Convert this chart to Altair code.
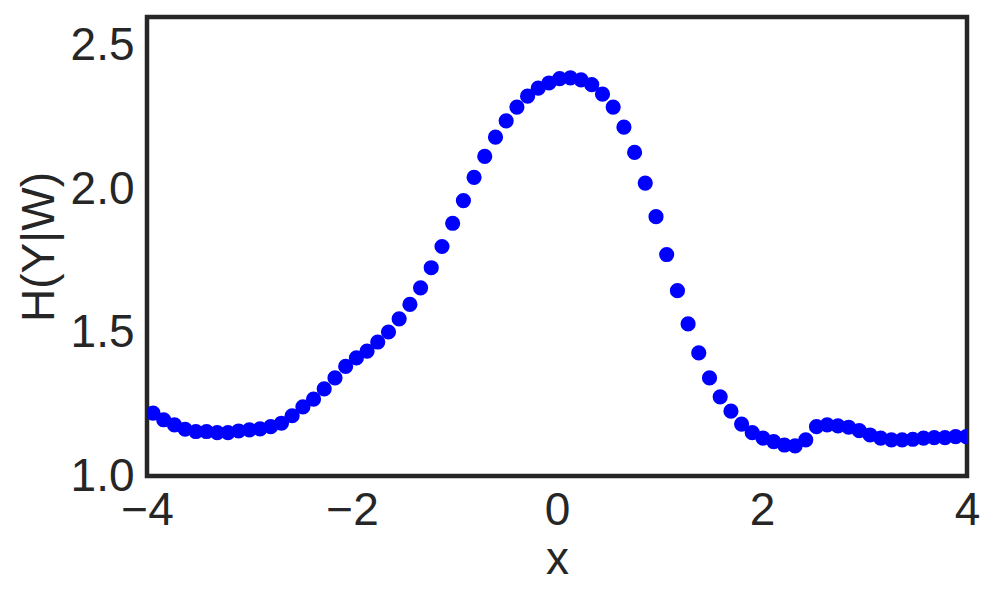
import altair as alt
import pandas as pd

x_vals = [-3.941, -3.837, -3.732, -3.628, -3.523, -3.419, -3.315, -3.210, -3.106, -3.001,
          -2.897, -2.793, -2.688, -2.584, -2.479, -2.375, -2.271, -2.166, -2.062, -1.957,
          -1.853, -1.749, -1.644, -1.540, -1.435, -1.331, -1.227, -1.122, -1.018, -0.913,
          -0.809, -0.705, -0.600, -0.496, -0.391, -0.287, -0.183, -0.078, 0.026, 0.131,
          0.235, 0.339, 0.444, 0.548, 0.653, 0.757, 0.861, 0.966, 1.070, 1.175,
          1.279, 1.383, 1.488, 1.592, 1.697, 1.801, 1.905, 2.010, 2.114, 2.219,
          2.323, 2.427, 2.532, 2.636, 2.741, 2.845, 2.949, 3.054, 3.158, 3.263,
          3.367, 3.471, 3.576, 3.680, 3.785, 3.889, 3.993]

h_vals = [1.219, 1.196, 1.178, 1.163, 1.155, 1.155, 1.151, 1.151, 1.157, 1.161,
          1.164, 1.172, 1.184, 1.210, 1.241, 1.268, 1.304, 1.342, 1.382, 1.412,
          1.435, 1.467, 1.502, 1.548, 1.598, 1.656, 1.726, 1.800, 1.881, 1.960,
          2.041, 2.114, 2.181, 2.238, 2.286, 2.324, 2.352, 2.370, 2.385, 2.388,
          2.381, 2.364, 2.331, 2.286, 2.216, 2.128, 2.021, 1.904, 1.772, 1.646,
          1.530, 1.429, 1.342, 1.276, 1.226, 1.181, 1.151, 1.132, 1.120, 1.108,
          1.105, 1.126, 1.172, 1.178, 1.175, 1.170, 1.158, 1.143, 1.132, 1.126,
          1.126, 1.128, 1.132, 1.134, 1.134, 1.137, 1.137]

x_ticks = [-4, -2, 0, 2, 4]
y_ticks = [1.0, 1.5, 2.0, 2.5]

df = pd.DataFrame({"x": x_vals, "h": h_vals})

FONT = "Liberation Sans"
TXT = "#262626"

chart = alt.Chart(df).mark_circle(
    color="#0000ff", opacity=1, size=230, clip=True
).encode(
    x=alt.X("x:Q", scale=alt.Scale(domain=[-4, 4], nice=False, zero=False),
            axis=alt.Axis(values=x_ticks, title="x", format="d")),
    y=alt.Y("h:Q", scale=alt.Scale(domain=[1.0, 2.6], nice=False, zero=False),
            axis=alt.Axis(values=y_ticks, title="H(Y|W)", format=".1f")),
).properties(
    width=820, height=459,
    autosize=alt.AutoSizeParams(type="none"),
    padding={"left": 139, "top": 9, "right": 25, "bottom": 116},
).configure_view(
    stroke=TXT, strokeWidth=4.5
).configure_axis(
    grid=False, domain=False, ticks=False, tickSize=0,
    labelFont=FONT, labelFontSize=46, labelColor=TXT,
    titleFont=FONT, titleFontSize=46, titleColor=TXT, titleFontWeight="normal",
    labelFlush=False, labelOverlap=False,
).configure_axisX(
    labelPadding=12, titlePadding=4
).configure_axisY(
    labelPadding=13, titlePadding=7
)

chart.save("out.html", embed_options={"renderer": "svg", "actions": False})
